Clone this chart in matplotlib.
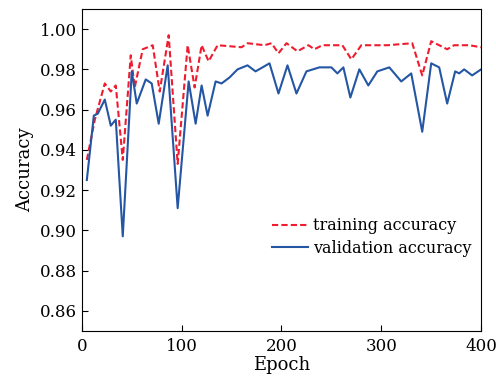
import matplotlib.pyplot as plt

plt.rcParams['font.family'] = ['DejaVu Serif']

# training accuracy
train_epoch = [5, 13, 23, 29, 34, 41, 49, 53, 61, 71, 78, 87, 96, 106, 113, 120, 127,
               136, 160, 166, 183, 190, 197, 205, 216, 227, 233, 241, 261, 270, 280,
               306, 331, 341, 350, 358, 366, 373, 388, 400]
train_acc = [0.935, 0.955, 0.973, 0.969, 0.972, 0.935, 0.987, 0.971, 0.990, 0.992,
             0.969, 0.997, 0.933, 0.992, 0.971, 0.992, 0.984, 0.992, 0.991, 0.993,
             0.992, 0.993, 0.988, 0.993, 0.989, 0.992, 0.990, 0.992, 0.992, 0.985,
             0.992, 0.992, 0.993, 0.977, 0.994, 0.992, 0.990, 0.992, 0.992, 0.991]

# validation accuracy
val_epoch = [5, 12, 16, 23, 29, 34, 41, 50, 55, 64, 70, 77, 86, 96, 107, 114, 120,
             126, 134, 140, 148, 156, 161, 166, 174, 181, 188, 197, 206, 215, 225,
             238, 250, 256, 262, 269, 278, 287, 296, 308, 320, 330, 341, 350, 358,
             366, 374, 378, 383, 391, 400]
val_acc = [0.925, 0.957, 0.958, 0.965, 0.952, 0.955, 0.897, 0.979, 0.963, 0.975,
           0.973, 0.953, 0.982, 0.911, 0.974, 0.953, 0.972, 0.957, 0.974, 0.973,
           0.976, 0.980, 0.981, 0.982, 0.979, 0.981, 0.983, 0.968, 0.982, 0.968,
           0.979, 0.981, 0.981, 0.978, 0.981, 0.966, 0.980, 0.972, 0.979, 0.981,
           0.974, 0.978, 0.949, 0.983, 0.981, 0.963, 0.979, 0.978, 0.980, 0.977,
           0.980]

fig = plt.figure(figsize=(4.96, 3.76), dpi=100)
ax = fig.add_axes([0.165, 0.12, 0.805, 0.856])

ax.plot(train_epoch, train_acc, color='#ee1c2e', linestyle=(0, (3, 1.5)), linewidth=1.5,
        label='training accuracy')
ax.plot(val_epoch, val_acc, color='#2456a4', linewidth=1.5, label='validation accuracy')

ax.set_xlim(0, 400)
ax.set_ylim(0.85, 1.01)
ax.set_xticks([0, 100, 200, 300, 400])
ax.set_yticks([0.86, 0.88, 0.90, 0.92, 0.94, 0.96, 0.98, 1.00])
ax.set_yticklabels([f'{v:.2f}' for v in ax.get_yticks()])
ax.tick_params(direction='in', labelsize=12, length=4)
ax.tick_params(axis='x', pad=5)
ax.set_xlabel('Epoch', fontsize=13, labelpad=1)
ax.set_ylabel('Accuracy', fontsize=13)

ax.legend(loc='lower right', bbox_to_anchor=(1.0, 0.2), frameon=False, fontsize=11.5,
          handlelength=2.3, handletextpad=0.3, labelspacing=0.35, borderaxespad=0.2)

plt.savefig('out.png', dpi=100)
plt.close()
